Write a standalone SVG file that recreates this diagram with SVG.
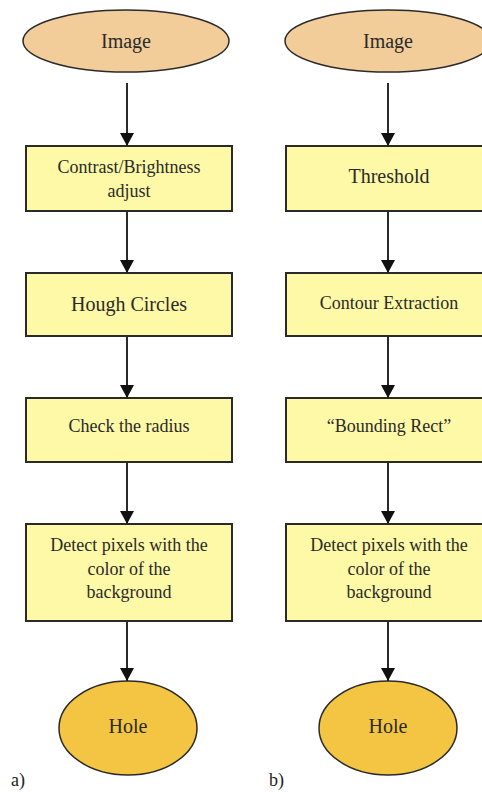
<svg xmlns="http://www.w3.org/2000/svg" width="482" height="792" viewBox="0 0 482 792">
<style>
text{fill:#2a2a2a;text-anchor:middle;font-size:18px}
.big{font-size:20px}
.box{fill:#fdf9a6;stroke:#2a2a2a;stroke-width:2}
.img{fill:#f2cd9a;stroke:#2a2a2a;stroke-width:1.5}
.hole{fill:#f3c543;stroke:#2a2a2a;stroke-width:1.5}
.conn line{stroke:#2a2a2a;stroke-width:2;marker-end:url(#ah)}
.lbl{text-anchor:start;fill:#222}
</style>
<defs>
<marker id="ah" viewBox="0 0 13 14" refX="13" refY="7" markerWidth="13" markerHeight="14" markerUnits="userSpaceOnUse" orient="auto">
<path d="M0,0 L13,7 L0,14 Z" fill="#111"/>
</marker>
</defs>
<rect width="482" height="792" fill="#fff"/>
<g font-family="Liberation Serif, Times New Roman, serif">
<g id="a-image"><ellipse class="img" cx="126" cy="41" rx="103" ry="31"/><text class="big" x="126" y="48">Image</text></g>
<g id="a-contrast"><rect class="box" x="26" y="146" width="206" height="65"/><text x="129" y="173">Contrast/Brightness</text><text x="129" y="197">adjust</text></g>
<g id="a-hough"><rect class="box" x="26" y="273" width="206" height="63"/><text class="big" x="129" y="311">Hough Circles</text></g>
<g id="a-radius"><rect class="box" x="26" y="398" width="206" height="64"/><text x="129" y="432">Check the radius</text></g>
<g id="a-detect"><rect class="box" x="26" y="524" width="206" height="97"/><text x="129" y="551">Detect pixels with the</text><text x="129" y="575">color of the</text><text x="129" y="598">background</text></g>
<g id="a-hole"><ellipse class="hole" cx="128" cy="728" rx="69" ry="47"/><text class="big" x="128" y="733">Hole</text></g>
<g id="b-image"><ellipse class="img" cx="388" cy="41" rx="103" ry="31"/><text class="big" x="388" y="48">Image</text></g>
<g id="b-threshold"><rect class="box" x="286" y="146" width="206" height="65"/><text class="big" x="389" y="183">Threshold</text></g>
<g id="b-contour"><rect class="box" x="286" y="273" width="206" height="63"/><text x="389" y="309">Contour Extraction</text></g>
<g id="b-bounding"><rect class="box" x="286" y="398" width="206" height="64"/><text x="389" y="432">“Bounding Rect”</text></g>
<g id="b-detect"><rect class="box" x="286" y="524" width="206" height="97"/><text x="389" y="551">Detect pixels with the</text><text x="389" y="575">color of the</text><text x="389" y="598">background</text></g>
<g id="b-hole"><ellipse class="hole" cx="388" cy="728" rx="69" ry="47"/><text class="big" x="388" y="733">Hole</text></g>
<text class="lbl" x="11" y="786">a)</text>
<text class="lbl" x="269" y="786">b)</text>
</g>
<g class="conn" id="connectors">
<line x1="127" y1="83" x2="127" y2="146"/>
<line x1="127" y1="211" x2="127" y2="273"/>
<line x1="127" y1="336" x2="127" y2="398"/>
<line x1="127" y1="462" x2="127" y2="524"/>
<line x1="127" y1="621" x2="127" y2="681"/>
<line x1="388" y1="83" x2="388" y2="146"/>
<line x1="388" y1="211" x2="388" y2="273"/>
<line x1="388" y1="336" x2="388" y2="398"/>
<line x1="388" y1="462" x2="388" y2="524"/>
<line x1="388" y1="621" x2="388" y2="681"/>
</g>
</svg>
